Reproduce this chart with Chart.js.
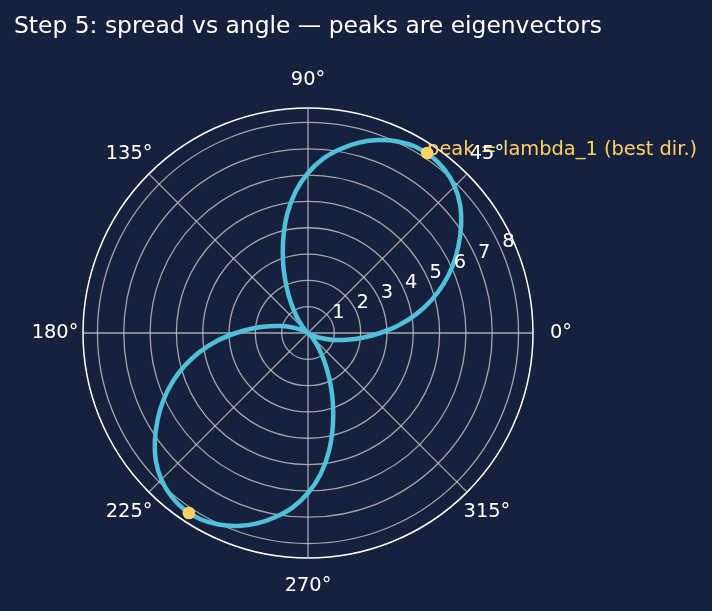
<!DOCTYPE html>
<html>
<head>
<meta charset="utf-8">
<script src="https://cdn.jsdelivr.net/npm/chart.js@4/dist/chart.umd.min.js"></script>
<style>
  html, body { margin: 0; padding: 0; background: #16213e; }
  #wrap { width: 712px; height: 611px; position: relative; }
</style>
</head>
<body>
<div id="wrap"><canvas id="c"></canvas></div>
<script>
// ---- data ----
const titleText = 'Step 5: spread vs angle \u2014 peaks are eigenvectors';
const angleDeg = [
  0, 5, 10, 15, 20, 25, 30, 35, 40, 45, 50, 55, 60, 65, 70, 75, 80, 85,
  90, 95, 100, 105, 110, 115, 120, 125, 130, 135, 140, 145, 150, 155, 160, 165, 170, 175,
  180, 185, 190, 195, 200, 205, 210, 215, 220, 225, 230, 235, 240, 245, 250, 255, 260, 265,
  270, 275, 280, 285, 290, 295, 300, 305, 310, 315, 320, 325, 330, 335, 340, 345, 350, 355
];
const spread = [
  2.74, 3.48, 4.19, 4.86, 5.49, 6.07, 6.60, 7.10, 7.55, 7.88, 8.09, 8.19, 8.17, 8.03, 7.80, 7.49, 7.10, 6.65,
  6.08, 5.40, 4.57, 3.65, 2.75, 1.92, 1.25, 0.73, 0.36, 0.13, 0.03, 0.00, 0.08, 0.30, 0.62, 1.02, 1.50, 2.08,
  2.74, 3.48, 4.19, 4.86, 5.49, 6.07, 6.60, 7.10, 7.55, 7.88, 8.09, 8.19, 8.17, 8.03, 7.80, 7.49, 7.10, 6.65,
  6.08, 5.40, 4.57, 3.65, 2.75, 1.92, 1.25, 0.73, 0.36, 0.13, 0.03, 0.00, 0.08, 0.30, 0.62, 1.02, 1.50, 2.08
];
const peakAngleDeg = [56.5, 236.5];
const peakSpread = [8.2, 8.2];
const peakLabel = 'peak = lambda_1 (best dir.)';
const radialTicks = [1, 2, 3, 4, 5, 6, 7, 8];
const angleTickDeg = [0, 45, 90, 135, 180, 225, 270, 315];
const rMax = 8.55;

// ---- build the radar table (0.5 degree slots, counter-clockwise from east) ----
const STEP = 0.5;
const N = Math.round(360 / STEP);
function idxFor(deg) {
  const a = (((360 - deg) % 360) + 360) % 360;
  return Math.round(a / STEP) % N;
}
const labels = Array.from({ length: N }, (_, i) => String((360 - i * STEP) % 360));
const curveData = new Array(N).fill(null);
angleDeg.forEach((a, k) => { curveData[idxFor(a)] = spread[k]; });
const peakData = new Array(N).fill(null);
peakAngleDeg.forEach((a, k) => { peakData[idxFor(a)] = peakSpread[k]; });
const angleTickIdx = new Set(angleTickDeg.map(idxFor));

const FONT = '"DejaVu Sans", "Liberation Sans", sans-serif';
const GRID = 'rgba(200,200,200,0.8)';
const CURVE = '#4fc1da';
const PEAK = '#ffd166';

const overlay = {
  id: 'overlay',
  afterDatasetsDraw(chart) {
    const ctx = chart.ctx;
    const meta = chart.getDatasetMeta(1);
    const pt = meta.data[idxFor(peakAngleDeg[0])];
    ctx.save();
    ctx.font = '19.4px ' + FONT;
    ctx.fillStyle = PEAK;
    ctx.textAlign = 'left';
    ctx.textBaseline = 'alphabetic';
    ctx.fillText(peakLabel, pt.x, pt.y + 2);
    ctx.restore();
  },
  afterDraw(chart) {
    const ctx = chart.ctx;
    const s = chart.scales.r;
    ctx.save();
    // title
    ctx.font = '23.4px ' + FONT;
    ctx.fillStyle = '#ffffff';
    ctx.textAlign = 'left';
    ctx.textBaseline = 'alphabetic';
    ctx.fillText(titleText, 14, 33);
    // radial tick labels along 22.5 degrees
    ctx.font = '19.4px ' + FONT;
    ctx.textAlign = 'center';
    ctx.textBaseline = 'middle';
    const ang = 22.5 * Math.PI / 180;
    radialTicks.forEach(v => {
      const d = s.getDistanceFromCenterForValue(v);
      ctx.fillText(String(v), s.xCenter + d * Math.cos(ang) + 6, s.yCenter - d * Math.sin(ang) - 10);
    });
    // angle labels
    angleTickDeg.forEach(deg => {
      const p = s.getPointPosition(idxFor(deg), s.drawingArea + 28);
      ctx.fillText(deg + '\u00b0', p.x, p.y);
    });
    ctx.restore();
  }
};

new Chart(document.getElementById('c'), {
  type: 'radar',
  data: {
    labels: labels,
    datasets: [
      {
        data: curveData,
        borderColor: CURVE,
        backgroundColor: CURVE,
        borderWidth: 4.5,
        borderJoinStyle: 'round',
        borderCapStyle: 'round',
        pointRadius: 0,
        pointHoverRadius: 0,
        fill: false,
        spanGaps: true,
        tension: 0.25,
        order: 2
      },
      {
        data: peakData,
        showLine: false,
        borderColor: 'transparent',
        borderWidth: 0,
        backgroundColor: PEAK,
        pointBackgroundColor: PEAK,
        pointBorderColor: PEAK,
        pointBorderWidth: 0,
        pointRadius: 6.3,
        pointHoverRadius: 6.3,
        fill: false,
        order: 1
      }
    ]
  },
  options: {
    responsive: true,
    maintainAspectRatio: false,
    animation: false,
    events: [],
    layout: { padding: { left: 83, top: 108, right: 179, bottom: 53 } },
    plugins: { legend: { display: false }, tooltip: { enabled: false }, title: { display: false } },
    scales: {
      r: {
        min: 0,
        max: rMax,
        startAngle: 90,
        afterBuildTicks: (sc) => { sc.ticks = [0, ...radialTicks, rMax].map(v => ({ value: v })); },
        ticks: { display: false },
        pointLabels: { display: false },
        grid: {
          circular: true,
          color: (c) => (c.tick && c.tick.value >= rMax) ? '#ffffff' : GRID,
          lineWidth: (c) => (c.tick && c.tick.value >= rMax) ? 1.5 : 1.3
        },
        angleLines: {
          display: true,
          color: GRID,
          lineWidth: (c) => angleTickIdx.has(c.index) ? 1.3 : 0
        }
      }
    }
  },
  plugins: [overlay]
});
</script>
</body>
</html>
